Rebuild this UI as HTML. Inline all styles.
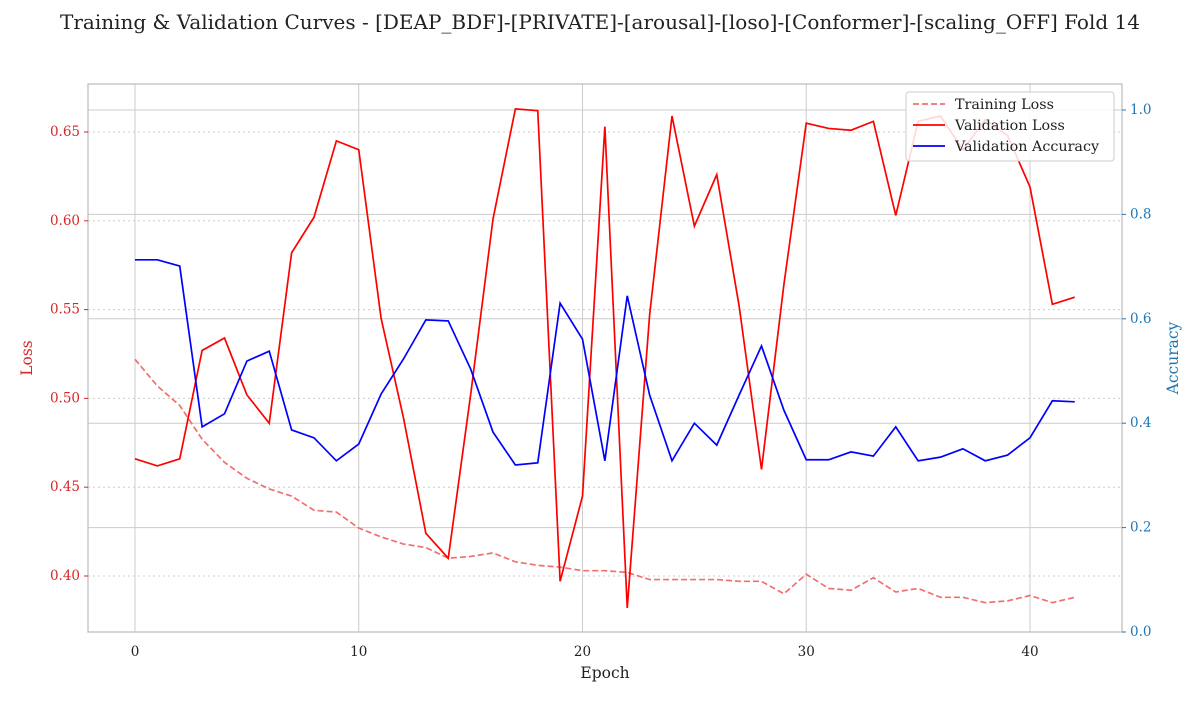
<!DOCTYPE html>
<html><head><meta charset="utf-8"><style>
body{margin:0;background:#fff;}
svg text{font-family:"DejaVu Serif","Liberation Serif",serif;}
</style></head><body>
<svg id="chart" width="1200" height="700" xmlns="http://www.w3.org/2000/svg">
<text x="600" y="29" text-anchor="middle" font-size="20" fill="#222">Training &amp; Validation Curves - [DEAP_BDF]-[PRIVATE]-[arousal]-[loso]-[Conformer]-[scaling_OFF] Fold 14</text>
<g id="grid"></g>
<g id="series"></g>
<g id="axes"></g>
</svg>
<script>
const epochs = Array.from({length:43},(_, i)=>i);
const trainLoss = [0.522,0.507,0.496,0.477,0.464,0.455,0.449,0.445,0.437,0.436,0.427,0.422,0.418,0.416,0.410,0.411,0.413,0.408,0.406,0.405,0.403,0.403,0.402,0.398,0.398,0.398,0.398,0.397,0.397,0.390,0.401,0.393,0.392,0.399,0.391,0.393,0.388,0.388,0.385,0.386,0.389,0.385,0.388];
const valLoss = [0.466,0.462,0.466,0.527,0.534,0.502,0.486,0.582,0.602,0.645,0.640,0.545,0.489,0.424,0.410,0.502,0.601,0.663,0.662,0.397,0.445,0.653,0.382,0.547,0.659,0.597,0.626,0.552,0.460,0.564,0.655,0.652,0.651,0.656,0.603,0.656,0.659,0.640,0.657,0.648,0.619,0.553,0.557];
const valAcc = [0.713,0.713,0.701,0.393,0.418,0.519,0.538,0.387,0.372,0.328,0.360,0.456,0.523,0.598,0.596,0.504,0.383,0.320,0.324,0.630,0.561,0.328,0.644,0.454,0.328,0.400,0.358,0.454,0.548,0.425,0.330,0.330,0.345,0.337,0.393,0.328,0.335,0.351,0.328,0.339,0.372,0.443,0.441];
const xTicks = [0,10,20,30,40];
const lossTicks = [0.40,0.45,0.50,0.55,0.60,0.65];
const accTicks = [0.0,0.2,0.4,0.6,0.8,1.0];

const L=88,R=1122,T=84,B=632;
const xs=e=>135+e*(1030-135)/40;
const yL=v=>576-(v-0.40)*(576-132)/0.25;
const yR=v=>632-v*522;
const NS="http://www.w3.org/2000/svg";
function mk(tag,attrs,parent){const el=document.createElementNS(NS,tag);for(const k in attrs)el.setAttribute(k,attrs[k]);parent.appendChild(el);return el;}
const grid=document.getElementById('grid'),ser=document.getElementById('series'),ax=document.getElementById('axes');
xTicks.forEach(t=>{const l=mk('line',{x1:xs(t),x2:xs(t),y1:T,y2:B,stroke:'#cccccc','stroke-width':1},grid);
});
accTicks.forEach(t=>{const l=mk('line',{x1:L,x2:R,y1:yR(t),y2:yR(t),stroke:'#cccccc','stroke-width':1},grid);
});
lossTicks.forEach(t=>{const l=mk('line',{x1:L,x2:R,y1:yL(t),y2:yL(t),stroke:'#cccccc','stroke-width':1,'stroke-dasharray':'2,3'},grid);
});
function line(data,yf,color,dash,name,op){
 const p=mk('polyline',{points:data.map((v,i)=>xs(epochs[i])+','+yf(v)).join(' '),fill:'none',stroke:color,'stroke-width':1.7,'stroke-opacity':op||1},ser);
 if(dash)p.setAttribute('stroke-dasharray',dash);
 }
line(trainLoss,yL,'#f07070','6,3','training-loss-line');
line(valLoss,yL,'#ff0000',null,'validation-loss-line');
line(valAcc,yR,'#0000ff',null,'validation-accuracy-line');
const fr=mk('rect',{x:L,y:T,width:R-L,height:B-T,fill:'none',stroke:'#bbbbbb','stroke-width':1.2},ax);

xTicks.forEach(t=>{const s=mk('text',{x:xs(t),y:656,'text-anchor':'middle','font-size':13.5,fill:'#222'},ax);s.textContent=t;
});
lossTicks.forEach(t=>{mk('line',{x1:L-4,x2:L,y1:yL(t),y2:yL(t),stroke:'#d62728'},ax);
const s=mk('text',{x:L-8,y:yL(t)+4,'text-anchor':'end','font-size':13.5,fill:'#d62728'},ax);s.textContent=t.toFixed(2);
});
accTicks.forEach(t=>{mk('line',{x1:R,x2:R+4,y1:yR(t),y2:yR(t),stroke:'#1f77b4'},ax);
const s=mk('text',{x:R+8,y:yR(t)+4,'font-size':13.5,fill:'#1f77b4'},ax);s.textContent=t.toFixed(1);
});
let s=mk('text',{x:605,y:678,'text-anchor':'middle','font-size':15.5,fill:'#222'},ax);s.textContent='Epoch';

s=mk('text',{x:32,y:358,'text-anchor':'middle','font-size':15.5,fill:'#d62728',transform:'rotate(-90 32 358)'},ax);s.textContent='Loss';

s=mk('text',{x:1178,y:358,'text-anchor':'middle','font-size':15.5,fill:'#1f77b4',transform:'rotate(-90 1178 358)'},ax);s.textContent='Accuracy';

const lg=mk('g',{},ax);
mk('rect',{x:906,y:92,width:208,height:69,rx:3,fill:'#fff','fill-opacity':0.85,stroke:'#cccccc'},lg);
[['Training Loss','#f07070','6,3'],['Validation Loss','#ff0000',null],['Validation Accuracy','#0000ff',null]].forEach((e,i)=>{
 const y=104+i*21;const l=mk('line',{x1:913,x2:945,y1:y,y2:y,stroke:e[1],'stroke-width':1.7},lg);if(e[2])l.setAttribute('stroke-dasharray',e[2]);
 const t=mk('text',{x:955,y:y+5,'font-size':14.3,fill:'#222'},lg);t.textContent=e[0];
 });
</script>
</body></html>
